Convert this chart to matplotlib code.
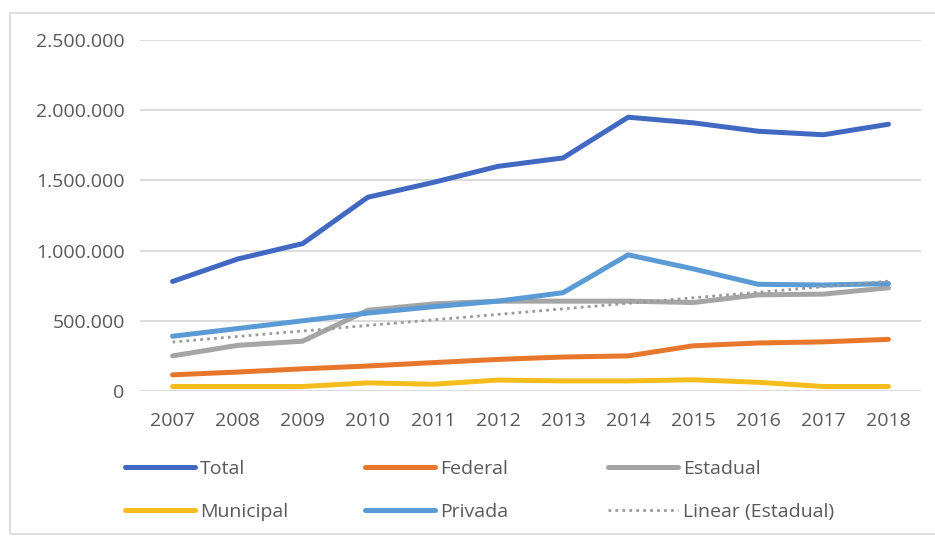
import numpy as np
import matplotlib
matplotlib.use("Agg")
import matplotlib.pyplot as plt
from matplotlib.patches import Rectangle
from matplotlib.ticker import FuncFormatter

plt.rcParams['font.family'] = ['Open Sans', 'DejaVu Sans']

anos = [2007, 2008, 2009, 2010, 2011, 2012, 2013, 2014, 2015, 2016, 2017, 2018]
total = [780000, 940000, 1050000, 1380000, 1485000, 1600000, 1660000, 1950000, 1910000, 1850000, 1825000, 1900000]
federal = [115000, 135000, 158000, 178000, 202000, 225000, 242000, 250000, 322000, 342000, 350000, 368000]
estadual = [250000, 325000, 355000, 575000, 620000, 640000, 640000, 640000, 630000, 685000, 690000, 735000]
municipal = [32000, 32000, 32000, 58000, 48000, 78000, 72000, 72000, 80000, 62000, 32000, 32000]
privada = [390000, 445000, 500000, 555000, 600000, 640000, 700000, 970000, 870000, 760000, 755000, 765000]

cor_total = '#4169C2'
cor_federal = '#E8772E'
cor_estadual = '#A5A5A5'
cor_municipal = '#F5BD1B'
cor_privada = '#5B9BD5'
cor_texto = '#595959'

fig = plt.figure(figsize=(9.35, 5.38), dpi=100)
ax = fig.add_axes([140 / 935, 1 - 391 / 538, 781 / 935, 351 / 538])

x = np.arange(len(anos))
lw = 3.6
l_total, = ax.plot(x, total, color=cor_total, lw=lw, label='Total', solid_capstyle='round', zorder=5)
l_fed, = ax.plot(x, federal, color=cor_federal, lw=lw, label='Federal', solid_capstyle='round', zorder=4)
l_est, = ax.plot(x, estadual, color=cor_estadual, lw=lw, label='Estadual', solid_capstyle='round', zorder=3)
l_mun, = ax.plot(x, municipal, color=cor_municipal, lw=lw, label='Municipal', solid_capstyle='round', zorder=4)
l_priv, = ax.plot(x, privada, color=cor_privada, lw=lw, label='Privada', solid_capstyle='round', zorder=4)

# linha de tendencia linear do estadual (minimos quadrados, como no Excel)
coef = np.polyfit(x, estadual, 1)
l_lin, = ax.plot(x, np.polyval(coef, x), color='#9a9a9a', lw=2, ls=(0, (1, 1.5)),
                 label='Linear (Estadual)', zorder=6)

ax.set_xlim(-0.5, len(anos) - 0.5)
ax.set_ylim(0, 2500000)
ax.set_yticks(np.arange(0, 2500001, 500000))
ax.yaxis.set_major_formatter(FuncFormatter(lambda v, p: f'{int(v):,}'.replace(',', '.')))
ax.set_xticks(x)
ax.set_xticklabels([str(a) for a in anos])
ax.grid(axis='y', color='#d9d9d9', lw=1.3)
ax.set_axisbelow(True)
for s in ax.spines.values():
    s.set_visible(False)
ax.tick_params(length=0, labelsize=14, colors=cor_texto)
ax.tick_params(axis='y', pad=11)
ax.tick_params(axis='x', pad=15)

# legendas em tres colunas
colunas = [([l_total, l_mun], 125), ([l_fed, l_priv], 365), ([l_est, l_lin], 608)]
for handles, xpos in colunas:
    leg = fig.legend(handles=handles, loc='upper left', bbox_to_anchor=(xpos / 935, 1 - 460 / 538),
                     frameon=False, fontsize=14, handlelength=3.6, handletextpad=0.25,
                     labelspacing=1.28, borderpad=0, borderaxespad=0)
    for t in leg.get_texts():
        t.set_color(cor_texto)

fig.patches.append(Rectangle((10 / 935, 4 / 538), 940 / 935, 521 / 538, transform=fig.transFigure,
                             fill=False, edgecolor='#d9d9d9', lw=1.2))

fig.savefig('out.png', dpi=100)
